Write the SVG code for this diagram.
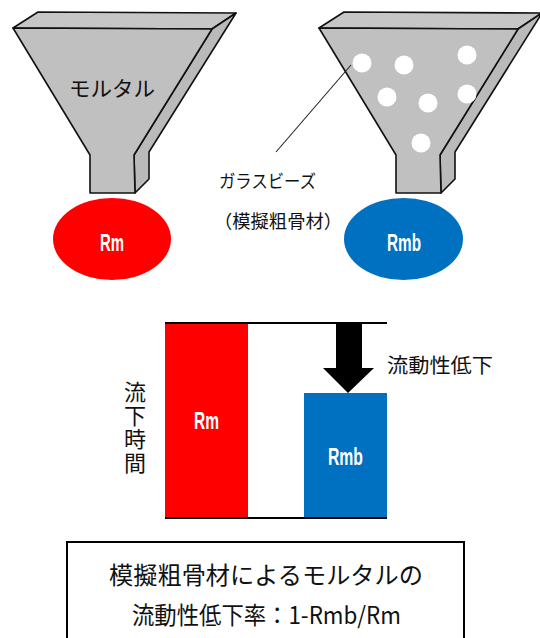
<svg xmlns="http://www.w3.org/2000/svg" width="540" height="638" viewBox="0 0 540 638">
  <style>
    .face { stroke: #111; stroke-width: 1.6; stroke-linejoin: round; }
    .rim { fill: #c6c6c6; }
    .front { fill: #c0c0c0; }
    .side { fill: #bababa; }
    .jp { font-family: "Noto Sans CJK JP", "Noto Sans", sans-serif; fill: #111; }
    .val { font-family: "Liberation Sans Narrow", "Liberation Sans", Arial, sans-serif; font-weight: bold; fill: #fff; }
    .bead { fill: #fff; }
  </style>
  <defs>
    <g id="funnel">
      <polygon class="face rim" points="13,28 38,12 236,13 212,29"/>
      <polygon class="face side" points="212,29 236,13 149,152 149,179 135,193 134,155"/>
      <polygon class="face front" points="13,28 212,29 134,155 135,193 90,193 90,155"/>
    </g>
  </defs>

  <rect width="540" height="638" fill="#fff"/>

  <!-- funnel filled with mortar -->
  <g id="funnel-mortar">
    <use href="#funnel"/>
    <text class="jp" x="69" y="96" font-size="21" textLength="86" lengthAdjust="spacingAndGlyphs">モルタル</text>
  </g>

  <!-- funnel filled with mortar and glass beads -->
  <g id="funnel-beads">
    <use href="#funnel" transform="translate(306,0)"/>
    <circle class="bead" cx="362" cy="63" r="9.5"/>
    <circle class="bead" cx="404" cy="65" r="9.5"/>
    <circle class="bead" cx="467" cy="55" r="9.5"/>
    <circle class="bead" cx="387" cy="97" r="9.5"/>
    <circle class="bead" cx="428" cy="103" r="9.5"/>
    <circle class="bead" cx="467" cy="94" r="9.5"/>
    <circle class="bead" cx="421" cy="143" r="9.5"/>
  </g>

  <g id="label-beads">
    <text class="jp" x="219" y="188" font-size="18" textLength="97" lengthAdjust="spacingAndGlyphs">ガラスビーズ</text>
    <text class="jp" x="214" y="228" font-size="18" textLength="128" lengthAdjust="spacingAndGlyphs">（模擬粗骨材）</text>
  </g>

  <g id="ellipse-rm">
    <ellipse cx="112" cy="239" rx="59" ry="41" fill="#ff0000"/>
    <text class="val" x="100" y="251" font-size="24" textLength="24" lengthAdjust="spacingAndGlyphs">Rm</text>
  </g>

  <g id="ellipse-rmb">
    <ellipse cx="403.5" cy="239" rx="59.5" ry="41" fill="#0070c0"/>
    <text class="val" x="387" y="251" font-size="24" textLength="34" lengthAdjust="spacingAndGlyphs">Rmb</text>
  </g>

  <!-- flow time chart -->
  <g id="chart">
    <rect x="165" y="323" width="83" height="195" fill="#ff0000"/>
    <rect x="304" y="393" width="83" height="125" fill="#0070c0"/>
    <line x1="165" y1="323" x2="387" y2="323" stroke="#000" stroke-width="2"/>
    <line x1="165" y1="518" x2="387" y2="518" stroke="#000" stroke-width="2"/>
    <text class="val" x="194" y="429" font-size="23" textLength="25" lengthAdjust="spacingAndGlyphs">Rm</text>
    <text class="val" x="328" y="465" font-size="23" textLength="35" lengthAdjust="spacingAndGlyphs">Rmb</text>
  </g>

  <g id="axis-label">
    <text class="jp" x="135" y="381" font-size="22" writing-mode="vertical-rl" letter-spacing="1.5">流下時間</text>
  </g>

  <g id="label-drop">
    <text class="jp" x="387" y="373" font-size="20" textLength="106" lengthAdjust="spacingAndGlyphs">流動性低下</text>
  </g>

  <g id="connectors">
    <line x1="351" y1="65" x2="276" y2="152" stroke="#222" stroke-width="1.1"/>
    <polygon points="336,323 362,323 362,368 374,368 348,393 323,368 336,368" fill="#000"/>
  </g>

  <!-- formula box -->
  <g id="formula">
    <rect x="67" y="542" width="397" height="110" fill="#fff" stroke="#000" stroke-width="2"/>
    <text class="jp" x="109" y="584" font-size="24" textLength="314" lengthAdjust="spacingAndGlyphs">模擬粗骨材によるモルタルの</text>
    <text class="jp" x="132" y="624" font-size="24" textLength="269" lengthAdjust="spacingAndGlyphs">流動性低下率：1-Rmb/Rm</text>
  </g>
</svg>
